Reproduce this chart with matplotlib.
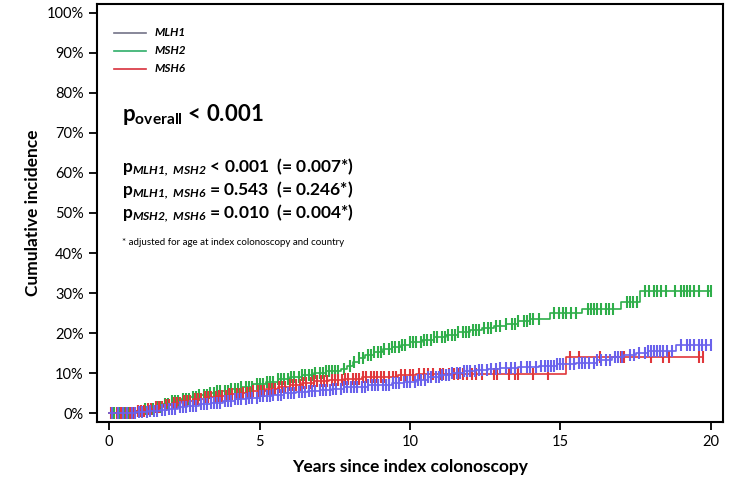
import numpy as np
import matplotlib
matplotlib.use('Agg')
from matplotlib import pyplot as plt

plt.rcParams['font.family'] = ['Lato', 'DejaVu Sans']
plt.rcParams['mathtext.fontset'] = 'custom'
plt.rcParams['mathtext.rm'] = 'Lato'
plt.rcParams['mathtext.bf'] = 'Lato:bold'
plt.rcParams['mathtext.it'] = 'Lato:italic'
plt.rcParams['mathtext.bfit'] = 'Lato:bold:italic'

# cumulative incidence step curves (years, %)
mlh1_t = [0, 0.9, 1.3, 1.7, 2.0, 2.3, 2.6, 3.0, 3.4, 3.8, 4.2, 4.6, 5.0, 5.4, 5.8, 6.2, 6.6, 7.0,
          7.4, 7.8, 8.2, 8.6, 9.0, 9.4, 9.8, 10.2, 10.6, 11.0, 11.4, 11.8, 12.2, 12.6, 13.0, 13.6,
          14.3, 14.9, 15.5, 16.2, 16.7, 17.1, 17.5, 17.9, 18.85]
mlh1_v = [0, 0.3, 0.5, 0.8, 1.1, 1.5, 1.8, 2.2, 2.6, 3.0, 3.4, 3.8, 4.2, 4.5, 4.9, 5.2, 5.5, 5.8,
          6.1, 6.4, 6.6, 6.9, 7.1, 7.4, 7.8, 8.3, 8.9, 9.5, 10.0, 10.4, 10.8, 11.1, 11.3, 11.5,
          11.7, 12.2, 12.6, 13.2, 14.0, 14.4, 14.9, 15.6, 17.0]
mlh1_end = 20.0

msh2_t = [0, 0.9, 1.2, 1.5, 1.8, 2.1, 2.4, 2.7, 3.0, 3.3, 3.6, 4.0, 4.4, 4.8, 5.2, 5.6, 6.0, 6.4,
          6.8, 7.2, 7.7, 7.9, 8.1, 8.3, 8.5, 8.8, 9.1, 9.4, 9.7, 10.0, 10.4, 10.8, 11.2, 11.6,
          12.0, 12.4, 12.8, 13.2, 13.6, 14.0, 14.65, 15.7, 17.0, 17.64]
msh2_v = [0, 0.5, 1.0, 1.6, 2.2, 2.9, 3.6, 4.1, 4.6, 5.0, 5.4, 6.0, 6.6, 7.2, 7.8, 8.4, 9.0, 9.6,
          10.1, 10.6, 11.0, 11.8, 12.8, 13.7, 14.5, 15.3, 15.9, 16.5, 17.1, 17.7, 18.3, 18.9,
          19.6, 20.2, 20.7, 21.2, 21.7, 22.3, 22.9, 23.6, 24.9, 25.9, 27.8, 30.4]
msh2_end = 20.0

msh6_t = [0, 0.9, 1.2, 1.5, 1.8, 2.1, 2.4, 2.8, 3.2, 3.6, 4.0, 4.4, 4.8, 5.2, 5.6, 6.0, 6.4,
          6.8, 7.3, 7.8, 8.4, 9.0, 9.6, 10.2, 15.2]
msh6_v = [0, 0.6, 1.1, 1.5, 2.0, 2.5, 3.1, 3.5, 3.9, 4.3, 4.7, 5.1, 5.5, 6.0, 6.5, 7.0, 7.5,
          8.0, 8.3, 8.6, 8.9, 9.1, 9.4, 9.8, 14.1]
msh6_end = 19.75

# censoring times
mlh1_cens = [0.1, 0.3, 0.45, 0.6, 0.75, 0.85, 1.0, 1.1, 1.25, 1.35, 1.5, 1.6, 1.75, 1.85, 2.0,
             2.1, 2.2, 2.35, 2.45, 2.55, 2.7, 2.8, 2.9, 3.05, 3.15, 3.25, 3.4, 3.5, 3.6, 3.7,
             3.85, 3.95, 4.05, 4.2, 4.3, 4.4, 4.55, 4.65, 4.75, 4.9, 5.0, 5.1, 5.25, 5.35, 5.45,
             5.6, 5.7, 5.8, 5.95, 6.05, 6.15, 6.3, 6.4, 6.5, 6.65, 6.75, 6.85, 7.0, 7.1, 7.2,
             7.35, 7.45, 7.55, 7.7, 7.8, 7.9, 8.05, 8.15, 8.25, 8.4, 8.5, 8.6, 8.75, 8.85, 8.95,
             9.1, 9.2, 9.3, 9.45, 9.55, 9.65, 9.8, 9.9, 10.0, 10.15, 10.25, 10.35, 10.5, 10.6,
             10.7, 10.85, 10.95, 11.05, 11.2, 11.3, 11.4, 11.55, 11.65, 11.8, 11.9, 12.0, 12.15,
             12.3, 12.4, 12.55, 12.7, 12.85, 13.0, 13.2, 13.35, 13.5, 13.7, 13.9, 14.0, 14.2,
             14.35, 14.5, 14.6, 14.7, 14.8, 14.9, 15.0, 15.1, 15.3, 15.45, 15.6, 15.7, 15.8,
             15.95, 16.1, 16.2, 16.35, 16.5, 16.65, 16.8, 16.9, 17.05, 17.3, 17.45, 17.6, 17.8,
             17.9, 18.0, 18.1, 18.2, 18.3, 18.4, 18.55, 18.7, 19.0, 19.2, 19.3, 19.45, 19.6,
             19.7, 19.85, 20.0]
msh2_cens = [0.15, 0.35, 0.5, 0.65, 0.8, 0.95, 1.05, 1.2, 1.3, 1.45, 1.6, 1.7, 1.85, 1.95, 2.1,
             2.2, 2.3, 2.45, 2.55, 2.65, 2.8, 2.9, 3.0, 3.15, 3.25, 3.35, 3.5, 3.6, 3.7, 3.85,
             3.95, 4.05, 4.2, 4.3, 4.4, 4.55, 4.65, 4.75, 4.9, 5.0, 5.1, 5.25, 5.35, 5.45, 5.6,
             5.7, 5.8, 5.95, 6.05, 6.15, 6.3, 6.4, 6.5, 6.65, 6.75, 6.85, 7.0, 7.1, 7.2, 7.3,
             7.4, 7.5, 7.6, 7.8, 8.0, 8.15, 8.3, 8.45, 8.6, 8.7, 8.8, 8.95, 9.05, 9.15, 9.3,
             9.4, 9.5, 9.65, 9.75, 9.85, 10.0, 10.1, 10.2, 10.35, 10.45, 10.55, 10.7, 10.8,
             10.9, 11.05, 11.15, 11.25, 11.4, 11.5, 11.6, 11.75, 11.85, 11.95, 12.1, 12.2, 12.3,
             12.45, 12.6, 12.7, 12.85, 13.0, 13.2, 13.4, 13.5, 13.6, 13.8, 13.9, 14.0, 14.1,
             14.3, 14.8, 14.95, 15.1, 15.2, 15.35, 15.5, 15.9, 16.0, 16.1, 16.2, 16.35, 16.5,
             16.6, 16.75, 17.2, 17.3, 17.4, 17.55, 17.8, 17.95, 18.1, 18.2, 18.35, 18.5, 18.8,
             19.0, 19.1, 19.2, 19.3, 19.45, 19.6, 19.9, 20.0]
msh6_cens = [0.05, 0.25, 0.4, 0.55, 0.7, 0.8, 0.95, 1.05, 1.15, 1.3, 1.4, 1.55, 1.65, 1.75, 1.9,
             2.0, 2.15, 2.25, 2.35, 2.5, 2.6, 2.7, 2.85, 2.95, 3.05, 3.2, 3.3, 3.4, 3.55, 3.65,
             3.75, 3.9, 4.0, 4.1, 4.25, 4.35, 4.45, 4.6, 4.7, 4.8, 4.95, 5.05, 5.15, 5.3, 5.4,
             5.5, 5.65, 5.75, 5.85, 6.0, 6.1, 6.2, 6.35, 6.45, 6.55, 6.7, 6.8, 6.9, 7.05, 7.15,
             7.25, 7.4, 7.5, 7.6, 7.75, 7.85, 7.95, 8.1, 8.2, 8.3, 8.45, 8.55, 8.7, 8.8, 8.9,
             9.05, 9.15, 9.3, 9.45, 9.55, 9.7, 9.85, 10.0, 10.1, 10.3, 10.45, 10.6, 10.75,
             11.0, 11.1, 11.3, 11.45, 11.6, 11.75, 11.9, 12.05, 12.2, 12.4, 12.8, 12.9, 13.3,
             13.5, 13.6, 14.1, 14.6, 15.3, 15.6, 16.3, 17.0, 17.05, 17.1, 18.0, 18.4, 18.6,
             19.6, 19.75]

genes = ['MLH1', 'MSH2', 'MSH6']
yticks = [0, 10, 20, 30, 40, 50, 60, 70, 80, 90, 100]
xticks = [0, 5, 10, 15, 20]

fig = plt.figure(figsize=(7.37, 4.8), dpi=100)
ax = fig.add_axes([0.1316, 0.1208, 0.8494, 0.8709])


def draw(t, v, end, cens, color, z):
    t = np.asarray(t, float)
    v = np.asarray(v, float)
    ax.step(np.append(t, end), np.append(v, v[-1]), where='post', color=color, lw=1.2, zorder=z)
    c = np.asarray(cens, float)
    idx = np.searchsorted(t, c, side='right') - 1
    ax.plot(c, v[idx], ls='none', marker='|', ms=8, mew=1.5, color=color, zorder=z)


draw(msh2_t, msh2_v, msh2_end, msh2_cens, '#2fae4a', 2)
draw(msh6_t, msh6_v, msh6_end, msh6_cens, '#e0373b', 3)
draw(mlh1_t, mlh1_v, mlh1_end, mlh1_cens, '#6a62ec', 4)

ax.set_xlim(-0.4, 20.4)
ax.set_ylim(-2.25, 102.25)
ax.set_xticks(xticks)
ax.set_yticks(yticks)
ax.set_yticklabels([f'{y}%' for y in yticks])
ax.tick_params(direction='out', length=6, width=1.3, labelsize=10.5, colors='black')
for s in ax.spines.values():
    s.set_linewidth(1.5)
ax.set_xlabel('Years since index colonoscopy', fontsize=12.5, fontweight='bold')
ax.set_ylabel('Cumulative incidence', fontsize=12.5, fontweight='bold')
ax.xaxis.set_label_coords(0.5, -0.088)
ax.yaxis.set_label_coords(-0.09, 0.5)

# legend drawn by hand
leg_cols = ['#737388', '#2fae6a', '#d8303c']
for i, (g, c) in enumerate(zip(genes, leg_cols)):
    yy = 95 - i * 4.5
    ax.plot([0.15, 1.23], [yy, yy], color=c, lw=1.2)
    ax.text(1.52, yy, g, fontsize=8.5, fontweight='bold', style='italic', va='center')

ax.text(0.43, 74.5, r'$\mathbf{p}_{\mathbf{overall}}$' + ' < 0.001', fontsize=16,
        fontweight='bold', va='center')
rows = [('MLH1,\\ MSH2', '< 0.001  (= 0.007*)'),
        ('MLH1,\\ MSH6', '= 0.543  (= 0.246*)'),
        ('MSH2,\\ MSH6', '= 0.010  (= 0.004*)')]
for i, (sub, rest) in enumerate(rows):
    ax.text(0.43, 61.5 - i * 5.8, r'$\mathbf{p}_{\mathbfit{' + sub + '}}$ ' + rest,
            fontsize=12.5, fontweight='bold', va='center')
ax.text(0.43, 42.7, '* adjusted for age at index colonoscopy and country', fontsize=7, va='center')

fig.savefig('out.png', dpi=100)
